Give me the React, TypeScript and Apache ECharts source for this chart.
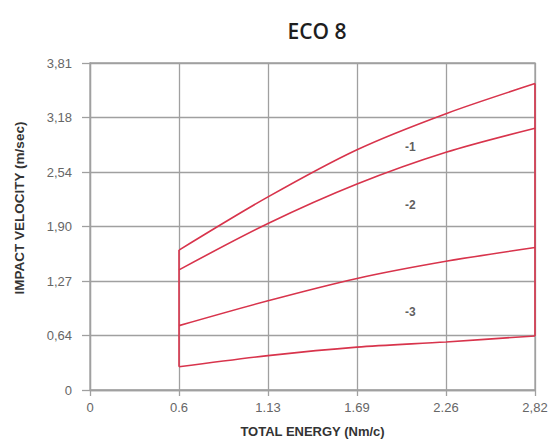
import React, { useEffect, useRef } from "react";
import * as echarts from "echarts";

// Total energy ticks (Nm/c) and their printed labels
const energyTicks = [0, 0.564, 1.128, 1.692, 2.256, 2.82];
const energyLabels = ["0", "0.6", "1.13", "1.69", "2.26", "2,82"];

// Impact velocity ticks (m/sec) and their printed labels
const velocityTicks = [0, 0.635, 1.27, 1.905, 2.54, 3.175, 3.81];
const velocityLabels = ["0", "0,64", "1,27", "1,90", "2,54", "3,18", "3,81"];

// Energy points at which each curve is sampled
const curveEnergy = [0.564, 1.128, 1.692, 2.256, 2.82];

// Velocity boundaries of the damper range
const curve1 = [1.63, 2.25, 2.8, 3.22, 3.57];
const curve2 = [1.4, 1.94, 2.4, 2.77, 3.05];
const curve3 = [0.75, 1.04, 1.3, 1.5, 1.66];
const curve4 = [0.27, 0.4, 0.5, 0.56, 0.63];

// Adjustment setting labels placed inside the bands
const settingNames = ["-1", "-2", "-3"];
const settingEnergy = [2.03, 2.03, 2.03];
const settingVelocity = [2.83, 2.16, 0.91];

const RED = "#d8344c";
const GRID = "#a0a0a0";
const FONT = "'Liberation Sans', Arial, sans-serif";

const pairs = (ys: number[]) => curveEnergy.map((x, i) => [x, ys[i]]);

const tickLabel = (ticks: number[], labels: string[]) => (v: number) => {
  let best = 0;
  ticks.forEach((t, i) => {
    if (Math.abs(t - v) < Math.abs(ticks[best] - v)) best = i;
  });
  return labels[best];
};

export default function App() {
  const ref = useRef<HTMLDivElement>(null);

  useEffect(() => {
    if (!ref.current) return;
    const chart = echarts.init(ref.current, undefined, { renderer: "svg" });

    const last = curveEnergy.length - 1;
    const curveStyle = {
      type: "line" as const,
      smooth: 0.3,
      showSymbol: false,
      symbol: "none",
      lineStyle: { color: RED, width: 1.6 },
      silent: true,
    };

    chart.setOption({
      animation: false,
      backgroundColor: "#ffffff",
      title: {
        text: "ECO 8",
        left: 312,
        textAlign: "center",
        top: 15,
        textStyle: {
          fontFamily: "'Open Sans', sans-serif",
          fontSize: 21,
          fontWeight: 600,
          color: "#1e1e1e",
        },
      },
      graphic: [
        {
          type: "text",
          x: 19,
          y: 208,
          rotation: Math.PI / 2,
          silent: true,
          style: {
            text: "IMPACT VELOCITY (m/sec)",
            align: "center",
            verticalAlign: "middle",
            fontFamily: FONT,
            fontSize: 13.5,
            fontWeight: "bold",
            fill: "#333",
          },
        },
      ],
      grid: {
        left: 90,
        right: 15,
        top: 63,
        bottom: 50,
        outerBoundsMode: "none",
        containLabel: false,
        show: true,
        borderColor: GRID,
        borderWidth: 1.3,
      },
      xAxis: {
        type: "value",
        min: 0,
        max: 2.82,
        interval: 0.564,
        name: "TOTAL ENERGY (Nm/c)",
        nameLocation: "middle",
        nameGap: 35,
        nameTextStyle: {
          fontFamily: FONT,
          fontSize: 13,
          fontWeight: "bold",
          color: "#333",
        },
        axisLine: { show: true, lineStyle: { color: GRID, width: 1.3 } },
        axisTick: { show: true, length: 6, lineStyle: { color: GRID, width: 1.3 } },
        splitLine: { show: true, lineStyle: { color: GRID, width: 1.3 } },
        axisLabel: {
          margin: 11,
          fontFamily: FONT,
          fontSize: 13,
          color: "#666",
          formatter: tickLabel(energyTicks, energyLabels),
        },
      },
      yAxis: {
        type: "value",
        min: 0,
        max: 3.81,
        interval: 0.635,
        axisLine: { show: true, lineStyle: { color: GRID, width: 1.3 } },
        axisTick: { show: true, length: 8, lineStyle: { color: GRID, width: 1.3 } },
        splitLine: { show: true, lineStyle: { color: GRID, width: 1.3 } },
        axisLabel: {
          margin: 18,
          fontFamily: FONT,
          fontSize: 13,
          color: "#666",
          formatter: tickLabel(velocityTicks, velocityLabels),
        },
      },
      series: [
        { ...curveStyle, name: "c1", data: pairs(curve1) },
        { ...curveStyle, name: "c2", data: pairs(curve2) },
        { ...curveStyle, name: "c3", data: pairs(curve3) },
        { ...curveStyle, name: "c4", data: pairs(curve4) },
        {
          ...curveStyle,
          smooth: false,
          name: "min-energy",
          data: [
            [curveEnergy[0], curve4[0]],
            [curveEnergy[0], curve1[0]],
          ],
        },
        {
          ...curveStyle,
          smooth: false,
          name: "max-energy",
          data: [
            [curveEnergy[last], curve4[last]],
            [curveEnergy[last], curve1[last]],
          ],
        },
        {
          type: "scatter",
          name: "settings",
          symbolSize: 0,
          silent: true,
          data: settingNames.map((n, i) => ({
            value: [settingEnergy[i], settingVelocity[i]],
            name: n,
          })),
          label: {
            show: true,
            position: "inside",
            formatter: (p: any) => p.name,
            fontFamily: FONT,
            fontSize: 12,
            fontWeight: "bold",
            color: "#333",
          },
        },
      ],
    });

    return () => chart.dispose();
  }, []);

  return (
    <div
      ref={ref}
      style={{ position: "fixed", left: 0, top: 0, width: 550, height: 440 }}
    />
  );
}
